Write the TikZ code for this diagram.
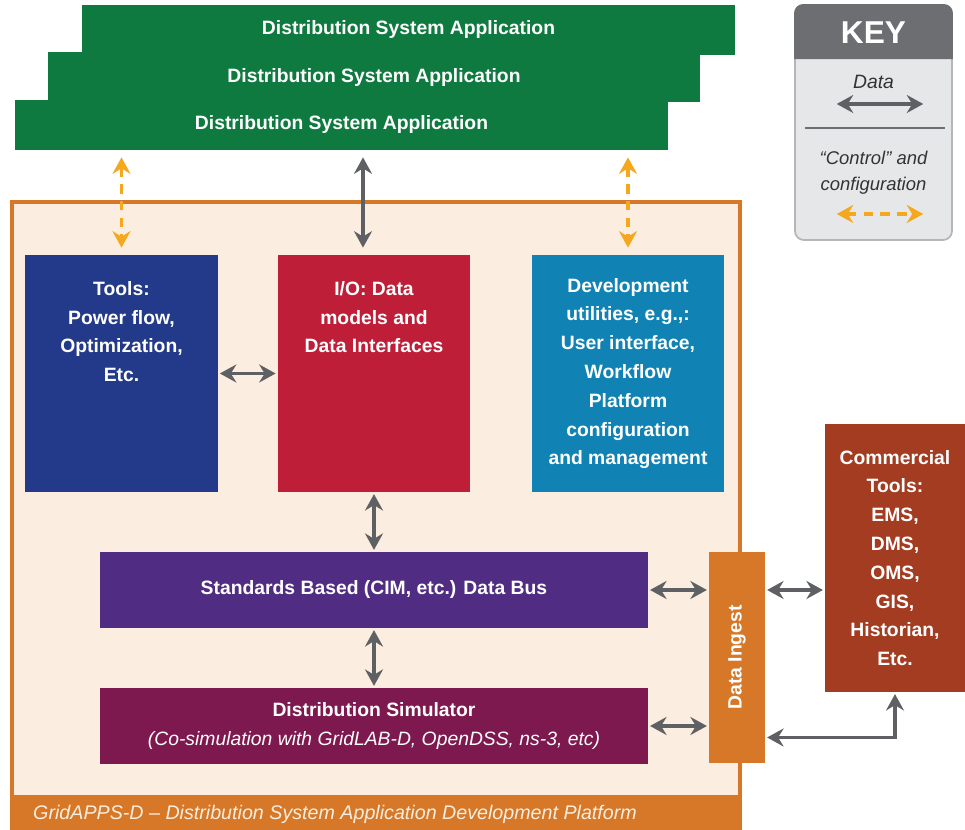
\documentclass[tikz,border=0pt]{standalone}
\usepackage{fontspec}
\setmainfont{Liberation Sans}
\usetikzlibrary{positioning,arrows.meta,calc}
\definecolor{zelena}{RGB}{15,122,64}
\definecolor{modra}{RGB}{35,58,138}
\definecolor{cervena}{RGB}{190,30,55}
\definecolor{tyrkys}{RGB}{16,131,180}
\definecolor{fialova}{RGB}{80,45,130}
\definecolor{vinova}{RGB}{125,25,78}
\definecolor{oranzova}{RGB}{214,120,40}
\definecolor{rezava}{RGB}{163,60,32}
\definecolor{bezova}{RGB}{251,238,224}
\definecolor{seda}{RGB}{95,96,100}
\definecolor{zluta}{RGB}{245,168,30}
\definecolor{klicTm}{RGB}{109,110,113}
\definecolor{klicSv}{RGB}{230,231,232}
\newcommand{\pismo}{\bfseries\fontsize{11}{16.4}\selectfont}
\tikzset{
  blok/.style={rectangle,inner sep=0pt,text=white,align=center,font=\pismo},
  appka/.style={blok,fill=zelena,minimum width=13.06cm,minimum height=1cm},
  velky/.style={blok,minimum width=3.85cm,minimum height=4.74cm},
  pas/.style={blok,minimum width=10.96cm,minimum height=1.52cm},
  popis/.style={inner sep=0pt,text=white,align=center,font=\pismo,anchor=north},
  hrot/.style={Stealth[length=3.3mm,width=3.6mm,inset=1.1mm]},
  sip/.style={{Stealth[length=3.3mm,width=3.6mm,inset=1.1mm]}-{Stealth[length=3.3mm,width=3.6mm,inset=1.1mm]},line width=2.1pt,draw=seda,shorten <=1pt,shorten >=1pt},
  sipR/.style={{Stealth[length=3.3mm,width=3.6mm,inset=1.1mm]}-{Stealth[length=3.3mm,width=3.6mm,inset=1.1mm]},line width=2.1pt,draw=zluta,dash pattern=on 5.5pt off 4pt,shorten <=4pt,shorten >=4pt},
}

\begin{document}
\begin{tikzpicture}[x=0.02cm,y=-0.02cm]
  \useasboundingbox (0,0) rectangle (965,830);
  % aplikace
  \node[appka] (app1) at (408.5,30) {Distribution System Application};
  \node[appka] (app2) at (374,77.5) {Distribution System Application};
  \node[appka] (app3) at (341.5,125) {Distribution System Application};
  % platforma
  \fill[bezova] (12,202) rectangle (740,830);
  \fill[oranzova] (12,795) rectangle (740,830);
  \draw[oranzova,line width=2pt] (12,830) -- (12,202) -- (740,202) -- (740,830);
  \node[anchor=west,text=bezova,font=\itshape\fontsize{11.2}{13}\selectfont] (plat) at (27,814)
    {GridAPPS-D -- Distribution System Application Development Platform};
  \node[velky,fill=modra] (tools) at (121.5,373.5) {};
  \node[velky,fill=cervena] (io) at (374,373.5) {};
  \node[velky,fill=tyrkys] (dev) at (628,373.5) {Development\\utilities, e.g.,:\\User interface,\\Workflow\\Platform\\configuration\\and management};
  \node[popis] (toolsT) at (121.5,281) {Tools:\\Power flow,\\Optimization,\\Etc.};
  \node[popis] (ioT) at (374,281) {I/O: Data\\models and\\Data Interfaces};
  \node[pas,fill=fialova] (bus) at (374,590) {Standards Based (CIM, etc.) Data Bus};
  \node[pas,fill=vinova] (sim) at (374,726) {Distribution Simulator\\{\mdseries\itshape (Co-simulation with GridLAB-D, OpenDSS, ns-3, etc)}};
  \node[blok,fill=oranzova,minimum width=1.12cm,minimum height=4.22cm] (ingest) at (737,657.5) {};
  \node[rotate=90,text=white,font=\pismo] (ingestT) at (ingest) {Data Ingest};
  \node[blok,fill=rezava,minimum width=2.8cm,minimum height=5.36cm] (comm) at (895,558)
    {Commercial\\Tools:\\EMS,\\DMS,\\OMS,\\GIS,\\Historian,\\Etc.};
  % sipky
  \draw[sipR] (tools.north |- app3.south) -- (tools.north);
  \draw[sipR] (dev.north |- app3.south) -- (dev.north);
  \draw[sip,shorten <=4pt,shorten >=4pt] ([xshift=-0.22cm]io.north |- app3.south) -- ([xshift=-0.22cm]io.north);
  \draw[sip] (tools.east) -- (io.west);
  \draw[sip] (io.south) -- (bus.north);
  \draw[sip] (bus.south) -- (sim.north);
  \draw[sip] (bus.east) -- (bus.east -| ingest.west);
  \draw[sip] (sim.east) -- (sim.east -| ingest.west);
  \draw[sip] (bus.east -| ingest.east) -- (bus.east -| comm.west);
  \draw[sip] ([yshift=-1.6cm]ingest.east) -| (comm.south);
  % klic
  \node[draw=klicTm!50,fill=klicSv,rounded corners=5pt,line width=1pt,minimum width=3.14cm,minimum height=4.7cm] (key) at (873.5,122.5) {};
  \fill[klicTm] ([yshift=-1.1cm]key.north west) [rounded corners=5pt] -- (key.north west) -- (key.north east) [sharp corners] -- ([yshift=-1.1cm]key.north east) -- cycle;
  \node[text=white,font=\bfseries\fontsize{18}{22}\selectfont] (keyT) at (873.5,33) {KEY};
  \node[text=black!80,font=\itshape\fontsize{11}{13}\selectfont] (kData) at (873.5,82) {Data};
  \coordinate (kd1) at (835,104); \coordinate (kd2) at (925,104);
  \draw[sip] (kd1) -- (kd2);
  \coordinate (kl1) at (805,128); \coordinate (kl2) at (945,128);
  \draw[klicTm,line width=1pt] (kl1) -- (kl2);
  \node[text=black!80,font=\itshape\fontsize{10.5}{14.5}\selectfont,align=center] (kCtrl) at (873.5,172.5) {``Control'' and\\configuration};
  \coordinate (kc1) at (835,214); \coordinate (kc2) at (925,214);
  \draw[sipR,shorten <=1pt,shorten >=1pt] (kc1) -- (kc2);
\end{tikzpicture}
\end{document}
